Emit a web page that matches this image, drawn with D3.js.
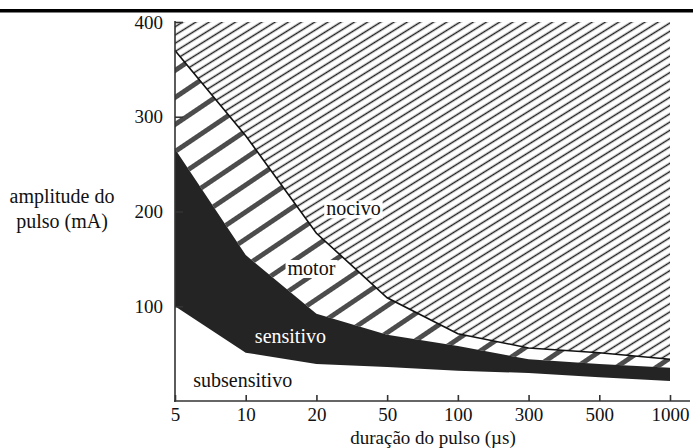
<!DOCTYPE html>
<html>
<head>
<meta charset="utf-8">
<script src="https://cdn.jsdelivr.net/npm/d3@7"></script>
<style>
  body { margin: 0; background: #fff; }
  svg { display: block; font-family: "Liberation Serif", "Times New Roman", serif; }
</style>
</head>
<body>
<svg id="chart" width="693" height="448"></svg>
<script>
// pulse duration categories (µs), equally spaced on the axis
const durations = ["5", "10", "20", "50", "100", "300", "500", "1000"];
// threshold amplitudes (mA)
const noxiousThreshold = [370, 280, 177, 109, 71, 56, 51, 44];   // motor -> nocivo
const motorThreshold   = [266, 154, 92, 70, 58, 44, 39, 35];      // sensitivo -> motor
const sensoryThreshold = [100, 51, 39, 36, 32, 29.5, 25, 21];     // subsensitivo -> sensitivo
const yTicks = [100, 200, 300, 400];
const yMax = 400;

const svg = d3.select('#chart');
const W = 693, H = 448;

let x = d3.scalePoint().domain(durations).range([175, 670]);
let y = d3.scaleLinear().domain([0, yMax]).range([401, 22]);

// patterns
let defs = svg.append('defs');
let fine = defs.append('pattern')
  .attr('id', 'fineHatch')
  .attr('patternUnits', 'userSpaceOnUse')
  .attr('width', 10).attr('height', 7)
  .attr('patternTransform', 'rotate(-32)');
fine.append('line')
  .attr('x1', 0).attr('x2', 10).attr('y1', 3.5).attr('y2', 3.5)
  .attr('stroke', '#1e1e1e').attr('stroke-width', 1.5);

let motorH = 22.4;
let wide = defs.append('pattern')
  .attr('id', 'motorHatch')
  .attr('patternUnits', 'userSpaceOnUse')
  .attr('width', 40).attr('height', motorH)
  .attr('patternTransform', 'translate(175,57) rotate(-34)');
wide.append('rect').attr('width', 40).attr('height', motorH).attr('fill', '#fff');
wide.append('line')
  .attr('x1', 0).attr('x2', 40).attr('y1', motorH / 2).attr('y2', motorH / 2)
  .attr('stroke', '#4c4c4c').attr('stroke-width', 5);

// top rule
svg.append('line')
  .attr('x1', 0).attr('x2', W).attr('y1', 10.7).attr('y2', 10.7)
  .attr('stroke', '#000').attr('stroke-width', 3.5);

let rows = durations.map((d, i) => ({
  d: d, nox: noxiousThreshold[i], mot: motorThreshold[i], sen: sensoryThreshold[i]
}));

let area = (top, bottom) => d3.area()
  .x(r => x(r.d))
  .y0(r => y(bottom(r)))
  .y1(r => y(top(r)));

let plot = svg.append('g');

// nocivo
plot.append('path').datum(rows)
  .attr('d', area(r => yMax, r => r.nox))
  .attr('fill', 'url(#fineHatch)');
// motor
plot.append('path').datum(rows)
  .attr('d', area(r => r.nox, r => r.mot))
  .attr('fill', 'url(#motorHatch)');
// sensitivo
plot.append('path').datum(rows)
  .attr('d', area(r => r.mot, r => r.sen))
  .attr('fill', '#242424');
// boundary line motor / nocivo
plot.append('path').datum(rows)
  .attr('d', d3.line().x(r => x(r.d)).y(r => y(r.nox)))
  .attr('fill', 'none')
  .attr('stroke', '#111')
  .attr('stroke-width', 1.6);

// region labels
let labels = [
  {text: 'nocivo', cat: '20', dx: 37, v: 196, color: '#111', box: true},
  {text: 'motor', cat: '20', dx: -5, v: 133, color: '#111', box: true},
  {text: 'sensitivo', cat: '20', dx: -26, v: 61, color: '#fff', box: false},
  {text: 'subsensitivo', cat: '10', dx: -3, v: 15, color: '#111', box: false}
];
labels.forEach(l => {
  let g = plot.append('g');
  let t = g.append('text')
    .attr('x', x(l.cat) + l.dx)
    .attr('y', y(l.v))
    .attr('text-anchor', 'middle')
    .attr('font-size', 20)
    .attr('fill', l.color)
    .text(l.text);
  if (l.box) {
    let b = t.node().getBBox();
    g.insert('rect', 'text')
      .attr('x', b.x - 2).attr('y', b.y + 3)
      .attr('width', b.width + 4).attr('height', b.height - 4)
      .attr('fill', '#fff');
  }
});

// axes
let yAxis = svg.append('g')
  .attr('transform', 'translate(175,0)')
  .call(d3.axisLeft(y).tickValues(yTicks).tickSize(-8).tickSizeOuter(0).tickPadding(12));
yAxis.select('.domain').remove();
svg.append('line')
  .attr('x1', 175).attr('x2', 175).attr('y1', y(yMax) - 1).attr('y2', 402)
  .attr('stroke', '#333').attr('stroke-width', 1.6);

let xAxis = svg.append('g')
  .attr('transform', 'translate(0,401)')
  .call(d3.axisBottom(x).tickSize(-6).tickSizeOuter(0).tickPadding(7));
xAxis.select('.domain').remove();
svg.append('line')
  .attr('x1', 174).attr('x2', 690).attr('y1', 401).attr('y2', 401)
  .attr('stroke', '#333').attr('stroke-width', 1.6);

svg.selectAll('.tick line').attr('stroke', '#333').attr('stroke-width', 1.6);
svg.selectAll('.tick text')
  .attr('font-family', '"Liberation Serif", "Times New Roman", serif')
  .attr('font-size', 19)
  .attr('fill', '#111');

// axis titles
svg.append('text')
  .attr('x', 433).attr('y', 444)
  .attr('text-anchor', 'middle')
  .attr('font-size', 19).attr('fill', '#111')
  .text('duração do pulso (µs)');

let yTitle = svg.append('text')
  .attr('text-anchor', 'middle')
  .attr('font-size', 20).attr('fill', '#111');
yTitle.append('tspan').attr('x', 62).attr('y', 203).text('amplitude do');
yTitle.append('tspan').attr('x', 62).attr('y', 228).text('pulso (mA)');
</script>
</body>
</html>
